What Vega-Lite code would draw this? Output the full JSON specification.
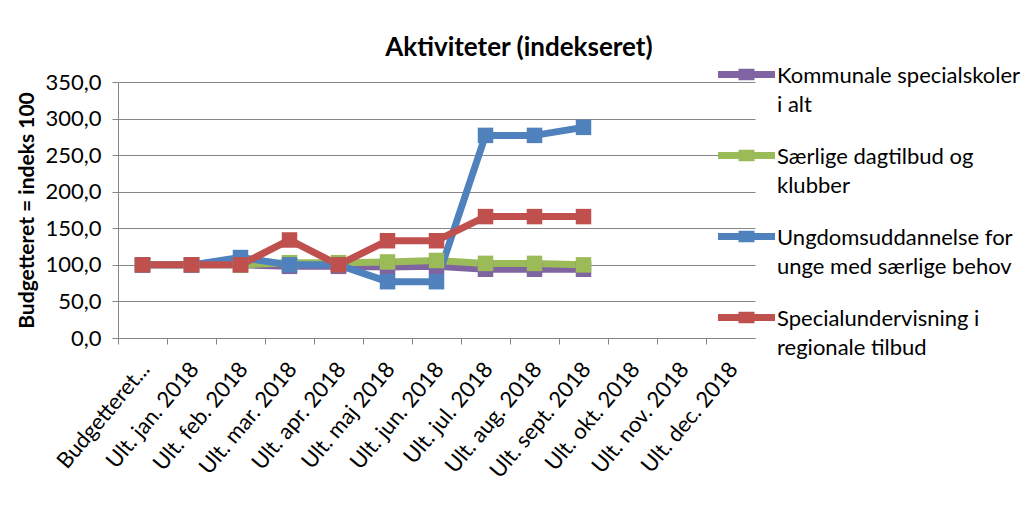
{
  "$schema": "https://vega.github.io/schema/vega-lite/v6.json",
  "width": 637,
  "height": 256,
  "autosize": {"type": "none"},
  "padding": {"left": 118, "top": 82, "right": 274, "bottom": 167},
  "background": "white",
  "title": {
    "text": "Aktiviteter (indekseret)",
    "font": "Lato",
    "fontSize": 26,
    "fontWeight": "bold",
    "color": "#000000",
    "anchor": "middle",
    "frame": "bounds",
    "offset": -15
  },
  "config": {
    "view": {"stroke": null},
    "font": "Lato",
    "axis": {"labelFont": "Lato", "titleFont": "Lato", "labelColor": "#000000", "titleColor": "#000000"}
  },
  "data": {
    "values": [
      {"periode": "Budgetteret...", "serie": "Kommunale specialskoler i alt", "indeks": 100},
      {"periode": "Ult. jan. 2018", "serie": "Kommunale specialskoler i alt", "indeks": 100},
      {"periode": "Ult. feb. 2018", "serie": "Kommunale specialskoler i alt", "indeks": 100},
      {"periode": "Ult. mar. 2018", "serie": "Kommunale specialskoler i alt", "indeks": 98},
      {"periode": "Ult. apr. 2018", "serie": "Kommunale specialskoler i alt", "indeks": 98},
      {"periode": "Ult. maj 2018", "serie": "Kommunale specialskoler i alt", "indeks": 97},
      {"periode": "Ult. jun. 2018", "serie": "Kommunale specialskoler i alt", "indeks": 98},
      {"periode": "Ult. jul. 2018", "serie": "Kommunale specialskoler i alt", "indeks": 94},
      {"periode": "Ult. aug. 2018", "serie": "Kommunale specialskoler i alt", "indeks": 94},
      {"periode": "Ult. sept. 2018", "serie": "Kommunale specialskoler i alt", "indeks": 94},
      {"periode": "Budgetteret...", "serie": "Særlige dagtilbud og klubber", "indeks": 100},
      {"periode": "Ult. jan. 2018", "serie": "Særlige dagtilbud og klubber", "indeks": 100},
      {"periode": "Ult. feb. 2018", "serie": "Særlige dagtilbud og klubber", "indeks": 100},
      {"periode": "Ult. mar. 2018", "serie": "Særlige dagtilbud og klubber", "indeks": 103},
      {"periode": "Ult. apr. 2018", "serie": "Særlige dagtilbud og klubber", "indeks": 103},
      {"periode": "Ult. maj 2018", "serie": "Særlige dagtilbud og klubber", "indeks": 104},
      {"periode": "Ult. jun. 2018", "serie": "Særlige dagtilbud og klubber", "indeks": 106},
      {"periode": "Ult. jul. 2018", "serie": "Særlige dagtilbud og klubber", "indeks": 102},
      {"periode": "Ult. aug. 2018", "serie": "Særlige dagtilbud og klubber", "indeks": 102},
      {"periode": "Ult. sept. 2018", "serie": "Særlige dagtilbud og klubber", "indeks": 100},
      {"periode": "Budgetteret...", "serie": "Ungdomsuddannelse for unge med særlige behov", "indeks": 100},
      {"periode": "Ult. jan. 2018", "serie": "Ungdomsuddannelse for unge med særlige behov", "indeks": 100},
      {"periode": "Ult. feb. 2018", "serie": "Ungdomsuddannelse for unge med særlige behov", "indeks": 110},
      {"periode": "Ult. mar. 2018", "serie": "Ungdomsuddannelse for unge med særlige behov", "indeks": 100},
      {"periode": "Ult. apr. 2018", "serie": "Ungdomsuddannelse for unge med særlige behov", "indeks": 100},
      {"periode": "Ult. maj 2018", "serie": "Ungdomsuddannelse for unge med særlige behov", "indeks": 77},
      {"periode": "Ult. jun. 2018", "serie": "Ungdomsuddannelse for unge med særlige behov", "indeks": 77},
      {"periode": "Ult. jul. 2018", "serie": "Ungdomsuddannelse for unge med særlige behov", "indeks": 277},
      {"periode": "Ult. aug. 2018", "serie": "Ungdomsuddannelse for unge med særlige behov", "indeks": 277},
      {"periode": "Ult. sept. 2018", "serie": "Ungdomsuddannelse for unge med særlige behov", "indeks": 288},
      {"periode": "Budgetteret...", "serie": "Specialundervisning i regionale tilbud", "indeks": 100},
      {"periode": "Ult. jan. 2018", "serie": "Specialundervisning i regionale tilbud", "indeks": 100},
      {"periode": "Ult. feb. 2018", "serie": "Specialundervisning i regionale tilbud", "indeks": 100},
      {"periode": "Ult. mar. 2018", "serie": "Specialundervisning i regionale tilbud", "indeks": 134},
      {"periode": "Ult. apr. 2018", "serie": "Specialundervisning i regionale tilbud", "indeks": 100},
      {"periode": "Ult. maj 2018", "serie": "Specialundervisning i regionale tilbud", "indeks": 133},
      {"periode": "Ult. jun. 2018", "serie": "Specialundervisning i regionale tilbud", "indeks": 133},
      {"periode": "Ult. jul. 2018", "serie": "Specialundervisning i regionale tilbud", "indeks": 166},
      {"periode": "Ult. aug. 2018", "serie": "Specialundervisning i regionale tilbud", "indeks": 166},
      {"periode": "Ult. sept. 2018", "serie": "Specialundervisning i regionale tilbud", "indeks": 166}
    ]
  },
  "encoding": {
    "x": {
      "field": "periode",
      "type": "nominal",
      "sort": null,
      "scale": {
        "type": "band",
        "paddingInner": 0,
        "paddingOuter": 0,
        "domain": ["Budgetteret...", "Ult. jan. 2018", "Ult. feb. 2018", "Ult. mar. 2018", "Ult. apr. 2018", "Ult. maj 2018", "Ult. jun. 2018", "Ult. jul. 2018", "Ult. aug. 2018", "Ult. sept. 2018", "Ult. okt. 2018", "Ult. nov. 2018", "Ult. dec. 2018"]
      },
      "axis": {
        "title": null,
        "labelAngle": -50,
        "labelAlign": "right",
        "labelBaseline": "middle",
        "labelFontSize": 22,
        "labelPadding": 21,
        "bandPosition": 0,
        "ticks": true,
        "tickSize": 6,
        "tickColor": "#868686",
        "domainColor": "#868686",
        "grid": false,
        "labelOffset": 3,
        "labelLimit": 250
      }
    },
    "y": {
      "field": "indeks",
      "type": "quantitative",
      "scale": {"domain": [0, 350], "nice": false},
      "axis": {
        "title": "Budgetteret = indeks 100",
        "titleFontSize": 21,
        "titleFontWeight": "bold",
        "titlePadding": 7,
        "values": [0, 50, 100, 150, 200, 250, 300, 350],
        "labelExpr": "replace(format(datum.value, '.1f'), '.', ',')",
        "labelFontSize": 22,
        "labelPadding": 11,
        "tickSize": 6,
        "tickColor": "#868686",
        "domainColor": "#868686",
        "gridColor": "#868686",
        "gridOpacity": 1
      }
    },
    "color": {
      "field": "serie",
      "type": "nominal",
      "sort": null,
      "scale": {
        "domain": ["Kommunale specialskoler i alt", "Særlige dagtilbud og klubber", "Ungdomsuddannelse for unge med særlige behov", "Specialundervisning i regionale tilbud"],
        "range": ["#8064A2", "#9BBB59", "#4F81BD", "#C0504D"]
      },
      "legend": {
        "title": null,
        "orient": "none",
        "legendX": 600,
        "legendY": -36,
        "labelFont": "Lato",
        "labelFontSize": 22,
        "labelColor": "#000000",
        "labelBaseline": "alphabetic",
        "labelOffset": 2,
        "labelLimit": 400,
        "rowPadding": 11,
        "symbolType": "M-1,-0.12L1,-0.12L1,0.12L-1,0.12Z M-0.28,-0.2L0.28,-0.2L0.28,0.2L-0.28,0.2Z",
        "symbolSize": 3249,
        "symbolStrokeWidth": 0,
        "labelExpr": "datum.label == 'Kommunale specialskoler i alt' ? ['Kommunale specialskoler', 'i alt'] : datum.label == 'Særlige dagtilbud og klubber' ? ['Særlige dagtilbud og', 'klubber'] : datum.label == 'Ungdomsuddannelse for unge med særlige behov' ? ['Ungdomsuddannelse for', 'unge med særlige behov'] : ['Specialundervisning i', 'regionale tilbud']",
        "encode": {
          "symbols": {"update": {"fill": {"scale": "color", "field": "value"}, "fillOpacity": {"value": 1}, "strokeWidth": {"value": 0}}},
          "labels": {"update": {"lineHeight": {"value": 29}, "dy": {"value": 8}}}
        }
      }
    }
  },
  "layer": [
    {
      "mark": {"type": "line", "strokeWidth": 7, "strokeJoin": "round"}
    },
    {
      "mark": {"type": "point", "shape": "square", "filled": true, "size": 240, "opacity": 1}
    }
  ]
}
